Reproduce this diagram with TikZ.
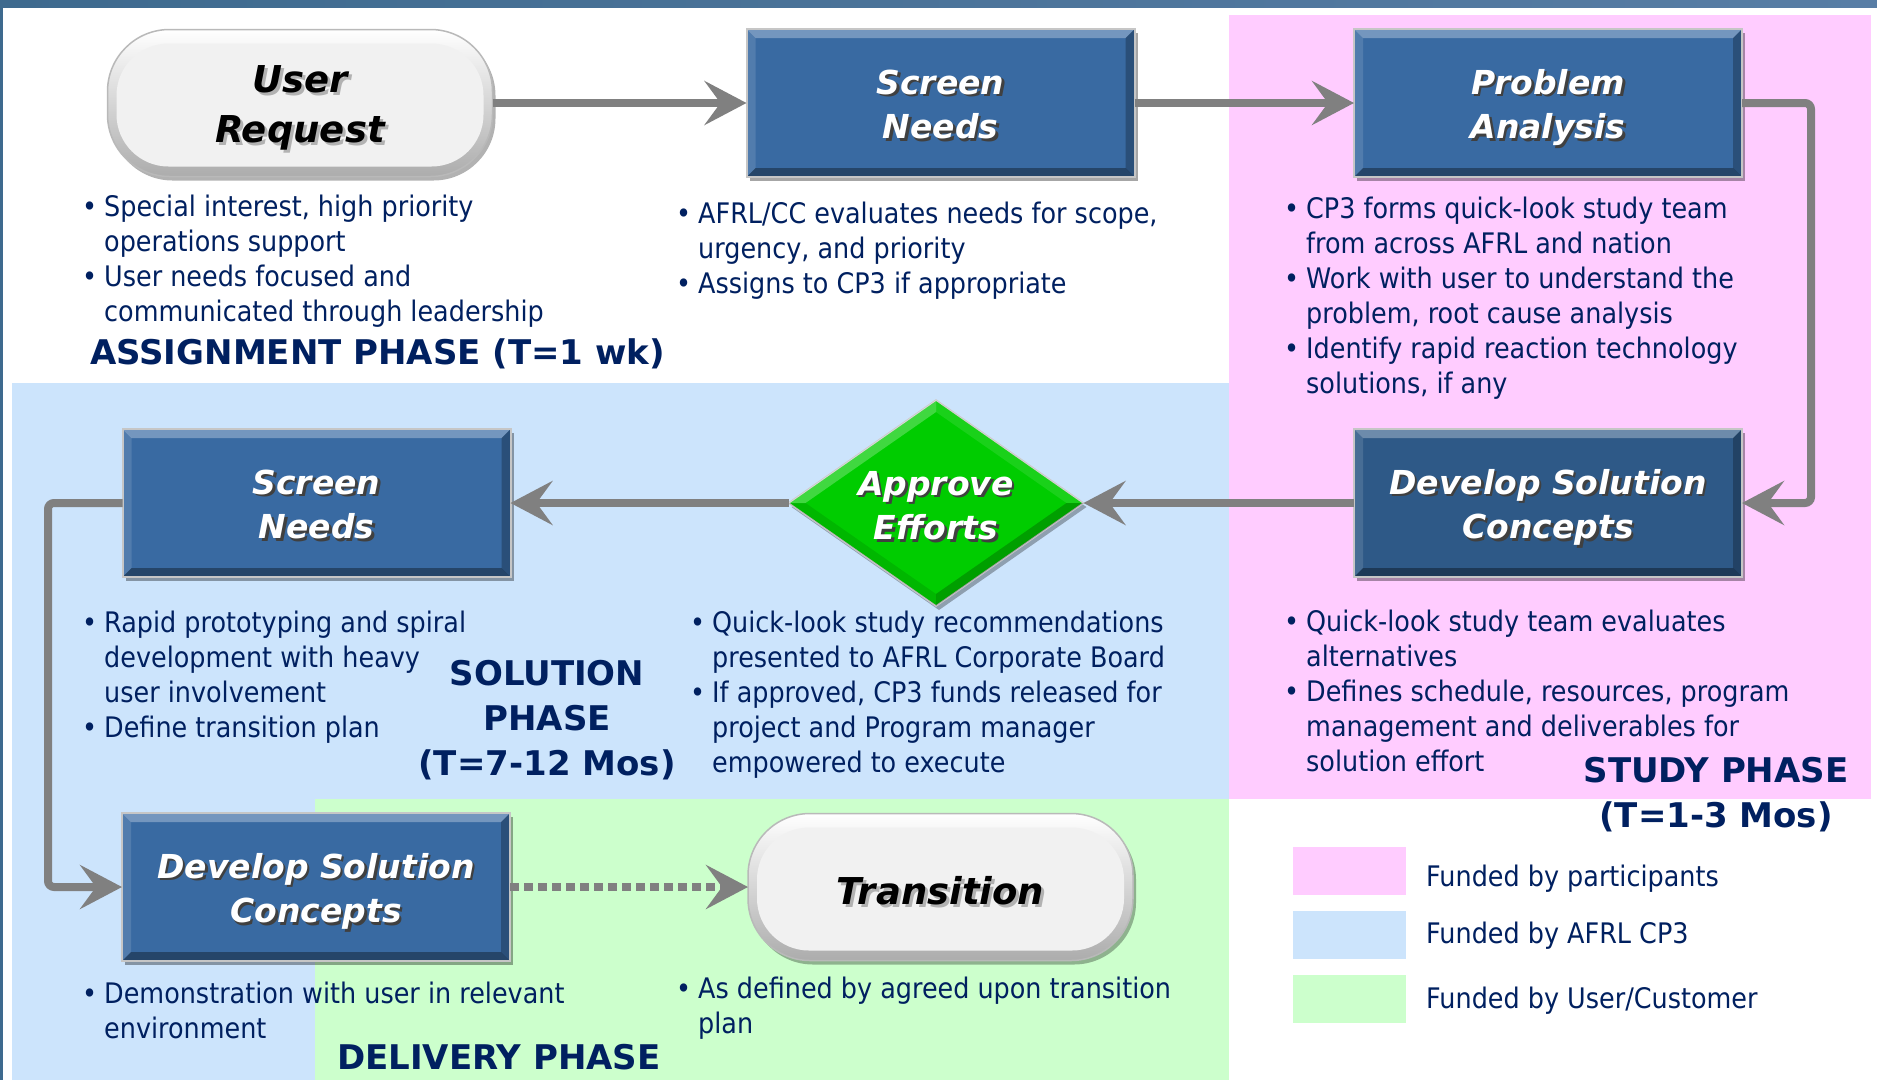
\documentclass[tikz,border=0pt]{standalone}
\usepackage{fontspec}
\setmainfont{DejaVu Sans}
\newfontfamily\bodyf{DejaVu Sans}[FakeStretch=0.9]
\usetikzlibrary{arrows.meta,shapes.geometric,shadows}

\definecolor{navy}{RGB}{0,32,96}
\definecolor{pinkbg}{RGB}{255,204,255}
\definecolor{bluebg}{RGB}{204,228,252}
\definecolor{greenbg}{RGB}{204,255,204}
\definecolor{boxblue}{RGB}{57,106,162}
\definecolor{boxdark}{RGB}{46,89,135}
\definecolor{arrgray}{RGB}{128,128,128}
\definecolor{dgreen}{RGB}{0,204,0}
\definecolor{topA}{RGB}{62,106,142}
\definecolor{topB}{RGB}{88,125,165}

\newcommand\wsh[1]{\leavevmode\rlap{\kern2.5pt\raisebox{-2.5pt}{\textcolor{black!75}{#1}}}\textcolor{white}{#1}}
\newcommand\ksh[1]{\leavevmode\rlap{\kern3pt\raisebox{-3pt}{\textcolor{black!30}{#1}}}\textcolor{black}{#1}}
\newcommand\twol[3]{\raisebox{#1}[0pt][0pt]{\begin{tabular}[b]{@{}c@{}}#2\\#3\end{tabular}}}
\newcommand\bul{\makebox[22pt][l]{•}}
\newcommand\ind{\hspace*{22pt}}

\begin{document}
\begin{tikzpicture}[x=1pt,y=-1pt,
  bevbox/.style={rectangle, draw=gray!45, line width=2pt, fill=#1, inner sep=0pt, outer sep=0pt,
    minimum width=388pt, minimum height=148pt,
    font=\bfseries\itshape\fontsize{33}{44.5}\selectfont, align=center,
    drop shadow={shadow xshift=3pt, shadow yshift=-4pt, opacity=.35, fill=black},
    path picture={
      \path (path picture bounding box.north west) coordinate (pNW)
            (path picture bounding box.north east) coordinate (pNE)
            (path picture bounding box.south west) coordinate (pSW)
            (path picture bounding box.south east) coordinate (pSE);
      \fill[white,opacity=.30] (pNW) -- (pNE) -- ([xshift=-9pt,yshift=-9pt]pNE) -- ([xshift=9pt,yshift=-9pt]pNW) -- cycle;
      \fill[white,opacity=.12] (pNW) -- ([xshift=9pt,yshift=-9pt]pNW) -- ([xshift=9pt,yshift=9pt]pSW) -- (pSW) -- cycle;
      \fill[black,opacity=.35] (pSW) -- (pSE) -- ([xshift=-9pt,yshift=9pt]pSE) -- ([xshift=9pt,yshift=9pt]pSW) -- cycle;
      \fill[black,opacity=.25] (pNE) -- ([xshift=-9pt,yshift=-9pt]pNE) -- ([xshift=-9pt,yshift=9pt]pSE) -- (pSE) -- cycle;
    }},
  pill/.style={rectangle, rounded corners=62pt, draw=gray!55, line width=1.5pt,
    top color=white, bottom color=gray!65, inner sep=0pt, outer sep=0pt,
    minimum width=385pt, minimum height=147pt,
    font=\bfseries\itshape\fontsize{37}{50}\selectfont, align=center,
    drop shadow={shadow xshift=3pt, shadow yshift=-4pt, opacity=.3, fill=black},
    path picture={
      \path (path picture bounding box.north west) coordinate (qNW)
            (path picture bounding box.south east) coordinate (qSE);
      \fill[gray!11, rounded corners=52pt] ([xshift=9pt,yshift=-14pt]qNW) rectangle ([xshift=-9pt,yshift=10pt]qSE);
    }},
  diam/.style={diamond, fill=dgreen, draw=gray!40, line width=1.5pt, inner sep=0pt, outer sep=0pt,
    minimum width=295pt, minimum height=206pt,
    drop shadow={shadow xshift=3pt, shadow yshift=-4pt, opacity=.3, fill=black}},
  ttl/.style={font=\bfseries\itshape\fontsize{33}{44.5}\selectfont, align=center, inner sep=0pt},
  bodytxt/.style={font=\bodyf\fontsize{28.3}{35}\selectfont, text=navy, inner sep=0pt, anchor=base west},
  phasetxt/.style={font=\bfseries\fontsize{34}{45}\selectfont, text=navy, inner sep=0pt},
  arr/.style={draw=arrgray, line width=8pt, -{Stealth[length=42pt,width=44pt,inset=16pt]}},
  swatch/.style={rectangle, inner sep=0pt, minimum width=113pt, minimum height=48pt}
]
\useasboundingbox (0,0) rectangle (1877,1080);
% backgrounds
\fill[white] (0,0) rectangle (1877,1080);
\shade[left color=topA, right color=topB] (0,0) rectangle (1877,7);
\fill[topA] (0,0) rectangle (2.5,1080);
\fill[pinkbg] (1229,15) rectangle (1871,799);
\fill[bluebg] (12,383) rectangle (1229,1080);
\fill[greenbg] (315,799) rectangle (1229,1080);

% nodes
\node[pill] (ur) at (300,103) {\twol{-39.8pt}{\ksh{User}}{\ksh{Request}}};
\node[bevbox=boxblue] (sn1) at (940.5,103) {\twol{-35.8pt}{\wsh{Screen}}{\wsh{Needs}}};
\node[bevbox=boxblue] (pa) at (1548,103) {\twol{-35.8pt}{\wsh{Problem}}{\wsh{Analysis}}};
\node[bevbox=boxdark] (dsc1) at (1548,503) {\twol{-35.8pt}{\wsh{Develop Solution}}{\wsh{Concepts}}};
\node[diam] (ae) at (936,503) {};
\fill[white,opacity=.25] (ae.west) -- (ae.north) -- ([yshift=-12pt]ae.north) -- ([xshift=17pt]ae.west) -- cycle;
\fill[white,opacity=.10] (ae.north) -- (ae.east) -- ([xshift=-17pt]ae.east) -- ([yshift=-12pt]ae.north) -- cycle;
\fill[black,opacity=.22] (ae.east) -- (ae.south) -- ([yshift=12pt]ae.south) -- ([xshift=-17pt]ae.east) -- cycle;
\fill[black,opacity=.10] (ae.south) -- (ae.west) -- ([xshift=17pt]ae.west) -- ([yshift=12pt]ae.south) -- cycle;
\node[ttl] (aet) at (936,503) {\twol{-36.8pt}{\wsh{Approve}}{\wsh{Efforts}}};
\node[bevbox=boxblue] (sn2) at (316.5,503) {\twol{-35.8pt}{\wsh{Screen}}{\wsh{Needs}}};
\node[bevbox=boxblue] (dsc2) at (316,887) {\twol{-35.8pt}{\wsh{Develop Solution}}{\wsh{Concepts}}};
\node[pill] (tr) at (940.5,887) {\raisebox{-17.8pt}[0pt][0pt]{\ksh{Transition}}};

% connectors
\coordinate (k1) at (1811,103);
\coordinate (k2) at (48,503);
\draw[arr] (ur.east) -- (sn1.west);
\draw[arr] (sn1.east) -- (pa.west);
\draw[arr, rounded corners=6pt] (pa.east) -- (k1) |- (dsc1.east);
\draw[arr] (dsc1.west) -- (ae.east);
\draw[arr] (ae.west) -- (sn2.east);
\draw[arr, rounded corners=6pt] (sn2.west) -- (k2) |- (dsc2.west);
\draw[arr, dash pattern=on 9pt off 5pt] (dsc2.east) -- (tr.west);

% bullet texts
\node[bodytxt] (t1) at (82,216) {\begin{tabular}[t]{@{}l@{}}
\bul Special interest, high priority\\
\ind operations support\\
\bul User needs focused and\\
\ind communicated through leadership
\end{tabular}};
\node[bodytxt] (t2) at (676,223) {\begin{tabular}[t]{@{}l@{}}
\bul AFRL/CC evaluates needs for scope,\\
\ind urgency, and priority\\
\bul Assigns to CP3 if appropriate
\end{tabular}};
\node[bodytxt] (t3) at (1284,218) {\begin{tabular}[t]{@{}l@{}}
\bul CP3 forms quick-look study team\\
\ind from across AFRL and nation\\
\bul Work with user to understand the\\
\ind problem, root cause analysis\\
\bul Identify rapid reaction technology\\
\ind solutions, if any
\end{tabular}};
\node[bodytxt] (t4) at (82,632) {\begin{tabular}[t]{@{}l@{}}
\bul Rapid prototyping and spiral\\
\ind development with heavy\\
\ind user involvement\\
\bul Define transition plan
\end{tabular}};
\node[bodytxt] (t5) at (690,632) {\begin{tabular}[t]{@{}l@{}}
\bul Quick-look study recommendations\\
\ind presented to AFRL Corporate Board\\
\bul If approved, CP3 funds released for\\
\ind project and Program manager\\
\ind empowered to execute
\end{tabular}};
\node[bodytxt] (t6) at (1284,631) {\begin{tabular}[t]{@{}l@{}}
\bul Quick-look study team evaluates\\
\ind alternatives\\
\bul Defines schedule, resources, program\\
\ind management and deliverables for\\
\ind solution effort
\end{tabular}};
\node[bodytxt] (t7) at (82,1003) {\begin{tabular}[t]{@{}l@{}}
\bul Demonstration with user in relevant\\
\ind environment
\end{tabular}};
\node[bodytxt] (t8) at (676,998) {\begin{tabular}[t]{@{}l@{}}
\bul As defined by agreed upon transition\\
\ind plan
\end{tabular}};

% phase labels
\node[phasetxt, anchor=base west] (p1) at (90,364) {ASSIGNMENT PHASE (T=1 wk)};
\node[phasetxt, anchor=base, align=center] (p2) at (547,775) {SOLUTION\\PHASE\\(T=7-12 Mos)};
\node[phasetxt, anchor=base] (p3) at (1716,782) {STUDY PHASE};
\node[phasetxt, anchor=base] (p4) at (1716,827) {(T=1-3 Mos)};
\node[phasetxt, anchor=base west] (p5) at (337,1069) {DELIVERY PHASE};

% legend
\node[swatch, fill=pinkbg] (lg1) at (1349.5,871) {};
\node[swatch, fill=bluebg] (lg2) at (1349.5,935) {};
\node[swatch, fill=greenbg] (lg3) at (1349.5,999) {};
\node[bodytxt] (lt1) at (1426,886) {Funded by participants};
\node[bodytxt] (lt2) at (1426,943) {Funded by AFRL CP3};
\node[bodytxt] (lt3) at (1426,1008) {Funded by User/Customer};
\end{tikzpicture}
\end{document}
